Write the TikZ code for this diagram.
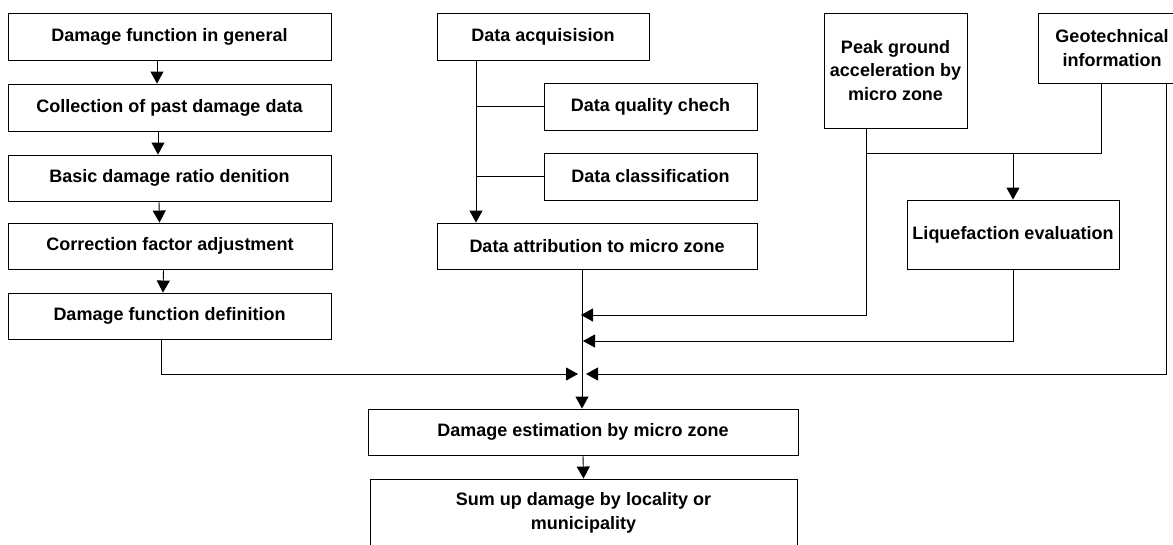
\documentclass[tikz,border=0pt]{standalone}
\usepackage{fontspec}
\setmainfont{Liberation Sans}
\usetikzlibrary{arrows.meta}
\tikzset{
	box/.style={draw, line width=0.9pt, align=center, inner sep=0pt, font=\fontsize{18}{23.5}\selectfont\bfseries},
	arr/.style={-{Triangle[length=12pt,width=13pt]}},
}
\begin{document}
\begin{tikzpicture}[x=1pt, y=-1pt, line width=0.9pt]
		\useasboundingbox (0,0) rectangle (1173,544);
		\clip (0,0) rectangle (1173,544);
		
		\node[box, minimum width=323pt, minimum height=47pt] (general) at (169.5,36.5) {Damage function in general};
		\node[box, minimum width=323pt, minimum height=47pt] (collect) at (169.5,107.5) {Collection of past damage data};
		\node[box, minimum width=323pt, minimum height=46pt] (basic) at (169.5,178) {Basic damage ratio denition};
		\node[box, minimum width=324pt, minimum height=46pt] (correct) at (170,246) {Correction factor adjustment};
		\node[box, minimum width=323pt, minimum height=46pt] (fdef) at (169.5,316) {Damage function definition};
		
		\node[box, minimum width=212pt, minimum height=47pt] (acq) at (543,36.5) {Data acquisision};
		\node[box, minimum width=213pt, minimum height=47pt] (quality) at (650.5,106.5) {Data quality chech};
		\node[box, minimum width=213pt, minimum height=47pt] (classif) at (650.5,176.5) {Data classification};
		\node[box, minimum width=320pt, minimum height=46pt] (attr) at (597,246) {Data attribution to micro zone};
		
		\node[box, minimum width=143pt, minimum height=115pt] (peak) at (895.5,70.5) {Peak ground\\acceleration by\\micro zone};
		\node[box, minimum width=148pt, minimum height=70pt] (geo) at (1112,48) {Geotechnical\\information};
		\node[box, minimum width=212pt, minimum height=69pt] (liq) at (1013,234.5) {Liquefaction evaluation};
		
		\node[box, minimum width=430pt, minimum height=46pt] (estim) at (583,432) {Damage estimation by micro zone};
		\node[box, minimum width=427pt, minimum height=68pt] (sum) at (583.5,513) {Sum up damage by locality or\\municipality};
		
		\foreach \a/\b/\s in {general/collect/-12.5, collect/basic/-11.5, basic/correct/-10.5, correct/fdef/-6.5}
		{
			\draw[arr] ([xshift=\s pt]\a.south) -- ([xshift=\s pt]\b.north);
		}
		
		\coordinate (trunk) at ([xshift=-67pt]acq.south);
		\draw[arr] (trunk) -- (trunk |- attr.north);
		\draw (trunk |- quality.west) -- (quality.west);
		\draw (trunk |- classif.west) -- (classif.west);
		
		\coordinate (join) at ([xshift=-15pt]attr.south);
		\draw[arr] (join) -- (join |- estim.north);
		
		\coordinate (pk) at ([xshift=-29.5pt]peak.south);
		\coordinate (gl) at ([xshift=-11pt]geo.south);
		\coordinate (split) at (1013,153);
		\draw (gl) |- (pk |- split);
		\draw[arr] (split) -- (liq.north);
		
		\coordinate (inpk) at (581,315);
		\coordinate (inliq) at (583,341);
		\coordinate (ingeo) at (586,374);
		\coordinate (infd) at (578,374);
		\draw[arr] (pk) |- (inpk);
		\draw[arr] (liq.south) |- (inliq);
		\draw[arr] ([xshift=54pt]geo.south) |- (ingeo);
		\draw[arr] ([xshift=-8.5pt]fdef.south) |- (infd);
		
		\draw[arr] (estim.south) -- (sum.north);
	\end{tikzpicture}
\end{document}
